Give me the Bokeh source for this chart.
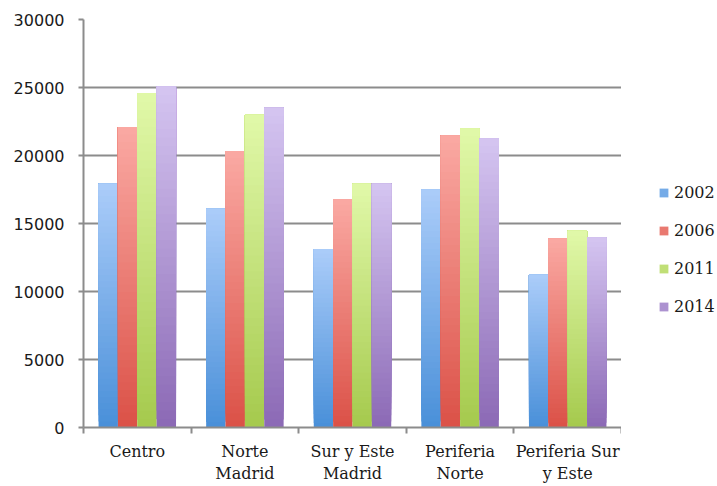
from bokeh.plotting import figure
from bokeh.layouts import row
from bokeh.models import (ColumnDataSource, FixedTicker, Legend, LegendItem, Range1d)
from bokeh.embed import file_html
from bokeh.resources import INLINE

categories = ["Centro", "Norte\nMadrid", "Sur y Este\nMadrid", "Periferia\nNorte", "Periferia Sur\ny Este"]
years = ["2002", "2006", "2011", "2014"]
v2002 = [17920, 16080, 13120, 17500, 11230]
v2006 = [22090, 20330, 16790, 21470, 13900]
v2011 = [24570, 22990, 17920, 21990, 14460]
v2014 = [25080, 23510, 17920, 21250, 13970]
y_ticks = [0, 5000, 10000, 15000, 20000, 25000, 30000]

series = [v2002, v2006, v2011, v2014]
# gradient colours (top, bottom) per series
grad = [((0xAA, 0xCC, 0xF9), (0x4A, 0x90, 0xD9)),
        ((0xFA, 0xA8, 0xA2), (0xDB, 0x52, 0x48)),
        ((0xE0, 0xF8, 0xA8), (0xA6, 0xCA, 0x4E)),
        ((0xD4, 0xC4, 0xF0), (0x8C, 0x6A, 0xB6))]
offsets = [-0.27, -0.09, 0.09, 0.27]
bar_w = 0.18
N = 40

p = figure(width=621, height=486, output_backend="svg", toolbar_location=None,
           x_range=Range1d(0, len(categories)), y_range=Range1d(0, 30000),
           min_border_left=83, min_border_right=0, min_border_top=19, min_border_bottom=59)
p.outline_line_color = None
p.background_fill_color = "white"
p.border_fill_color = "white"

def mix(c1, c2, t):
    return "#%02x%02x%02x" % tuple(int(round(a + (b - a) * t)) for a, b in zip(c1, c2))

for si, vals in enumerate(series):
    top_c, bot_c = grad[si]
    xs, bots, tops, cols = [], [], [], []
    for ci, v in enumerate(vals):
        for k in range(N):
            xs.append(ci + 0.5 + offsets[si])
            bots.append(v * k / N)
            tops.append(v)
            cols.append(mix(bot_c, top_c, k / (N - 1)))
    src = ColumnDataSource(dict(x=xs, bottom=bots, top=tops, color=cols))
    p.vbar(x="x", bottom="bottom", top="top", width=bar_w, source=src,
           fill_color="color", line_color=None)

# x axis
xa = p.xaxis[0]
xa.ticker = FixedTicker(ticks=[i + 0.5 for i in range(len(categories))],
                        minor_ticks=list(range(len(categories) + 1)))
xa.major_label_overrides = {i + 0.5: c for i, c in enumerate(categories)}
xa.major_tick_out = 0
xa.major_tick_in = 0
xa.minor_tick_out = 6
xa.minor_tick_in = 0
xa.minor_tick_line_color = "#8c8c8c"
xa.minor_tick_line_width = 2
xa.axis_line_color = "#8c8c8c"
xa.axis_line_width = 2
xa.major_label_text_font = "DejaVu Serif"
xa.major_label_text_font_size = "16px"
xa.major_label_text_color = "#1a1a1a"
xa.major_label_standoff = 8
xa.major_label_text_line_height = 1.2

# y axis
ya = p.yaxis[0]
ya.ticker = FixedTicker(ticks=y_ticks)
ya.minor_tick_line_color = None
ya.major_tick_out = 5
ya.major_tick_in = 0
ya.major_tick_line_color = "#8c8c8c"
ya.major_tick_line_width = 2
ya.axis_line_color = "#8c8c8c"
ya.axis_line_width = 2
ya.major_label_text_font = "DejaVu Sans"
ya.major_label_text_font_size = "16px"
ya.major_label_text_color = "#1a1a1a"
ya.major_label_standoff = 14

p.xgrid.grid_line_color = None
p.ygrid.grid_line_color = "#8c8c8c"
p.ygrid.grid_line_width = 2
p.ygrid.ticker = FixedTicker(ticks=y_ticks)

# legend panel (borders match the chart, since a row aligns them)
lg = figure(width=96, height=486, output_backend="svg", toolbar_location=None,
            x_range=Range1d(0, 1), y_range=Range1d(0, 1),
            min_border_left=0, min_border_right=0, min_border_top=19, min_border_bottom=59)
lg.axis.visible = False
lg.grid.visible = False
lg.outline_line_color = None
lg.background_fill_alpha = 0
items = []
for si in range(len(years)):
    top_c, bot_c = grad[si]
    # zero-height placeholder bar so that the legend has a glyph to draw
    r = lg.vbar(x=[0.5], bottom=[0], top=[0], width=0.1,
                fill_color=mix(bot_c, top_c, 0.45), line_color=None)
    items.append(LegendItem(label=years[si], renderers=[r]))
legend = Legend(items=items, location=(37, 111), padding=0, margin=0,
                border_line_color=None, background_fill_alpha=0,
                glyph_width=11, glyph_height=11, label_height=20, spacing=18,
                label_standoff=5, label_text_font="DejaVu Serif",
                label_text_font_size="16px", label_text_color="#1a1a1a")
lg.add_layout(legend, "center")

layout = row(p, lg, spacing=0)
open("out.html", "w").write(file_html(layout, INLINE))
